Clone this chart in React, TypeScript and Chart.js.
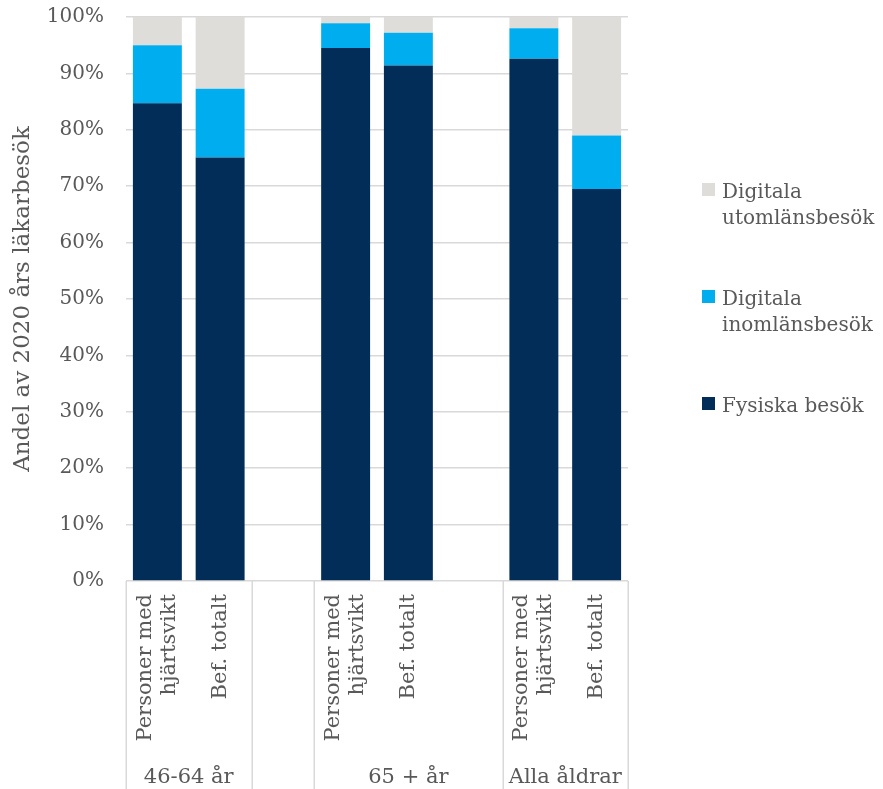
import { useEffect, useRef } from 'react';
import { Chart, registerables } from 'chart.js';

Chart.register(...registerables);

// Category slots along the x axis (empty slots keep the gaps between age groups)
const categoryLabels: string[][] = [
  ['Personer med', 'hjärtsvikt'],
  ['Bef. totalt'],
  [''],
  ['Personer med', 'hjärtsvikt'],
  ['Bef. totalt'],
  [''],
  ['Personer med', 'hjärtsvikt'],
  ['Bef. totalt'],
];

// Second-level axis groups and how many slots each spans
const groupLabels = ['46-64 år', '', '65 + år', 'Alla åldrar'];
const groupSpans = [2, 1, 3, 2];

// Share of 2020 doctor visits (%)
const fysiskaBesok = [84.7, 75.1, null, 94.5, 91.4, null, 92.6, 69.5];
const digitalaInom = [10.3, 12.2, null, 4.4, 5.8, null, 5.4, 9.5];
const digitalaUtom = [5.0, 12.7, null, 1.1, 2.8, null, 2.0, 21.0];

const seriesNames: string[][] = [
  ['Fysiska besök'],
  ['Digitala', 'inomlänsbesök'],
  ['Digitala', 'utomlänsbesök'],
];
const seriesColors = ['#022D58', '#00AEEF', '#DEDDD9'];

const yTicks = [0, 10, 20, 30, 40, 50, 60, 70, 80, 90, 100];

const FONT = "'DejaVu Serif', 'Liberation Serif', serif";
const TEXT = '#595959';
const LINE = '#D9D9D9';

const axisDecor = {
  id: 'axisDecor',
  afterDraw(chart: any) {
    const { ctx, chartArea, scales } = chart;
    const x = scales.x;
    const n = chart.data.labels.length;
    const w = (chartArea.right - chartArea.left) / n;
    const bottom = chartArea.bottom;
    const H = chart.height;

    ctx.save();
    // group separators
    ctx.strokeStyle = LINE;
    ctx.lineWidth = 1.5;
    let k = 0;
    const bounds = [0];
    groupSpans.forEach((s) => {
      k += s;
      bounds.push(k);
    });
    bounds.forEach((b) => {
      const px = Math.round(chartArea.left + b * w) + 0.25;
      ctx.beginPath();
      ctx.moveTo(px, bottom);
      ctx.lineTo(px, H);
      ctx.stroke();
    });

    // rotated category labels
    ctx.fillStyle = TEXT;
    ctx.font = `21px ${FONT}`;
    const lh = 24;
    chart.data.labels.forEach((lines: string[], i: number) => {
      const cx = x.getPixelForValue(i);
      ctx.save();
      ctx.translate(cx, bottom + 13);
      ctx.rotate(-Math.PI / 2);
      ctx.textAlign = 'right';
      ctx.textBaseline = 'middle';
      lines.forEach((t, j) => {
        ctx.fillText(t, 0, (j - (lines.length - 1) / 2) * lh);
      });
      ctx.restore();
    });

    // group labels
    ctx.textAlign = 'center';
    ctx.textBaseline = 'alphabetic';
    let start = 0;
    groupLabels.forEach((g, gi) => {
      const l = chartArea.left + start * w;
      const r = chartArea.left + (start + groupSpans[gi]) * w;
      if (g) ctx.fillText(g, (l + r) / 2, 783);
      start += groupSpans[gi];
    });

    // legend, top entry is the top stack segment
    ctx.font = `20px ${FONT}`;
    const lx = 702;
    const box = 13;
    const lineH = 26;
    let top = 183;
    const ds = chart.data.datasets;
    for (let d = ds.length - 1; d >= 0; d--) {
      ctx.fillStyle = ds[d].backgroundColor;
      ctx.fillRect(lx, top, box, box);
      ctx.fillStyle = TEXT;
      ctx.textAlign = 'left';
      seriesNames[d].forEach((t, j) => {
        ctx.fillText(t, lx + 20, top + 15 + j * lineH);
      });
      top += seriesNames[d].length * lineH + 55;
    }
    ctx.restore();
  },
};

export default function App() {
  const ref = useRef<HTMLCanvasElement>(null);

  useEffect(() => {
    document.body.style.margin = '0';
    const chart = new Chart(ref.current!, {
      type: 'bar',
      data: {
        labels: categoryLabels as any,
        datasets: [fysiskaBesok, digitalaInom, digitalaUtom].map((data, i) => ({
          label: seriesNames[i].join(' '),
          data,
          backgroundColor: seriesColors[i],
          borderWidth: 0,
          barPercentage: 0.78,
          categoryPercentage: 1,
        })),
      },
      options: {
        animation: false,
        responsive: true,
        maintainAspectRatio: false,
        layout: { padding: { left: 0, right: 255, top: 17, bottom: 0 } },
        plugins: {
          legend: { display: false },
          tooltip: { enabled: false },
        },
        scales: {
          x: {
            stacked: true,
            grid: { display: false },
            border: { display: false },
            ticks: { display: false },
            afterFit: (s: any) => {
              s.height = 208;
            },
          },
          y: {
            stacked: true,
            min: 0,
            max: 100,
            afterBuildTicks: (s: any) => {
              s.ticks = yTicks.map((v) => ({ value: v }));
            },
            grid: { color: LINE, lineWidth: 1.5, drawTicks: false },
            border: { display: false },
            ticks: {
              padding: 22,
              color: TEXT,
              font: { family: FONT, size: 20 },
              callback: (v: any) => `${v}%`,
            },
            title: {
              display: true,
              text: 'Andel av 2020 års läkarbesök',
              color: TEXT,
              font: { family: FONT, size: 23 },
              padding: { top: 9, bottom: 0 },
            },
            afterFit: (s: any) => {
              s.width = 126;
              s.paddingTop = 12;
              s.paddingBottom = 12;
            },
          },
        },
      },
      plugins: [axisDecor],
    });
    return () => chart.destroy();
  }, []);

  return (
    <div style={{ position: 'relative', width: 883, height: 789 }}>
      <canvas ref={ref} />
    </div>
  );
}
